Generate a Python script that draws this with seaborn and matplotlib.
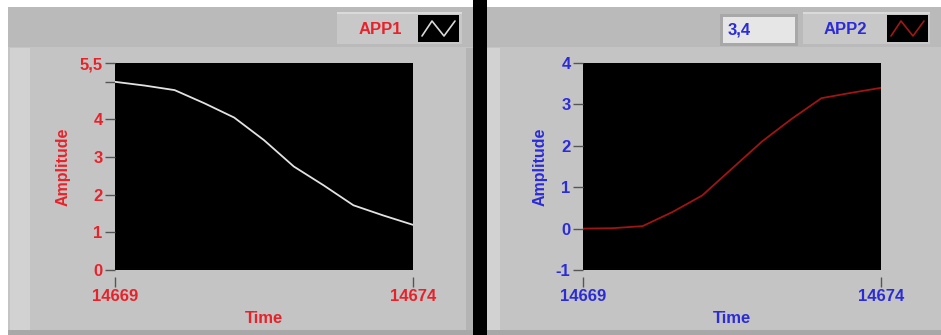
import numpy as np
import pandas as pd
import seaborn as sns
import matplotlib.pyplot as plt
from matplotlib.patches import Rectangle
from matplotlib.lines import Line2D

# values
time = [14669, 14669.5, 14670, 14670.5, 14671, 14671.5, 14672, 14672.5, 14673, 14673.5, 14674]
app1 = [5.00, 4.90, 4.78, 4.43, 4.05, 3.45, 2.75, 2.25, 1.72, 1.45, 1.20]
app2 = [0.00, 0.01, 0.06, 0.40, 0.80, 1.45, 2.10, 2.65, 3.15, 3.28, 3.40]
x_ticks = [14669, 14674]
y1_ticks = [0, 1, 2, 3, 4, 5, 5.5]
y1_labels = ["0", "1", "2", "3", "4", "", "5,5"]
y2_ticks = [-1, 0, 1, 2, 3, 4]
y2_labels = ["-1", "0", "1", "2", "3", "4"]

W, H = 941, 335
RED = "#e8222a"
BLUE = "#2b2bd8"

sns.set_style("white")
plt.rcParams["font.family"] = ["Liberation Sans", "DejaVu Sans"]

fig = plt.figure(figsize=(W / 100, H / 100), dpi=100)
fig.patch.set_facecolor("white")


def box(x0, y0, x1, y1, color, z=-10):
    # rectangle in pixel coords (y from top)
    fig.patches.append(Rectangle((x0 / W, 1 - y1 / H), (x1 - x0) / W, (y1 - y0) / H,
                                 transform=fig.transFigure, facecolor=color,
                                 edgecolor="none", zorder=z))


def ftext(x, y, s, color, **kw):
    fig.text(x / W, 1 - y / H, s, color=color, ha="center", va="center",
             fontweight="bold", **kw)


# panel backgrounds
box(8, 7, 473, 335, "#c4c4c4")
box(8, 7, 473, 47, "#bababa")
box(10, 48, 30, 330, "#d2d2d2")
box(8, 330, 473, 335, "#a8a8a8")
box(466, 48, 473, 330, "#b4b4b4")
box(473, 0, 487, 335, "#000000")
box(487, 7, 941, 335, "#c4c4c4")
box(487, 7, 941, 47, "#bababa")
box(487, 48, 500, 330, "#d2d2d2")
box(487, 330, 941, 335, "#a8a8a8")

# legend / indicator boxes
box(337, 12, 462, 44, "#c8c8c8", -9)
box(337, 12, 462, 14, "#dadada", -8.5)
box(418, 15, 459, 42, "#000000", -8)
ftext(380, 29, "APP1", RED, fontsize=12)
box(803, 12, 930, 44, "#c8c8c8", -9)
box(803, 12, 930, 14, "#dadada", -8.5)
box(887, 15, 928, 42, "#000000", -8)
ftext(845, 29, "APP2", BLUE, fontsize=12)
box(720, 14, 798, 46, "#a8a8a8", -9)
box(723, 17, 795, 43, "#e6e6e6", -8)
fig.text(728 / W, 1 - 30 / H, f"{app2[-1]:.1f}".replace(".", ","), color=BLUE,
         ha="left", va="center", fontweight="bold", fontsize=12)

for x0, col in [(418, "#d8d8d8"), (887, "#a01818")]:
    xs = np.array([x0 + 4, x0 + 14, x0 + 26, x0 + 37]) / W
    ys = 1 - np.array([36, 21, 36, 21]) / H
    fig.lines.append(Line2D(xs, ys, transform=fig.transFigure, color=col, lw=1.2))


def graph(x0, vals, color, txt, yticks, ylabels, ylim):
    ax = fig.add_axes([x0 / W, 1 - 270 / H, 298 / W, 207 / H])
    df = pd.DataFrame({"Time": time, "Amplitude": vals})
    sns.lineplot(data=df, x="Time", y="Amplitude", color=color, lw=1.3, ax=ax)
    ax.set_facecolor("black")
    ax.set_xlim(time[0], time[-1])
    ax.set_ylim(*ylim)
    ax.spines["bottom"].set_position(("outward", 5))
    for s in ax.spines.values():
        s.set_visible(False)
    ax.set_xticks(x_ticks)
    ax.set_xticklabels([str(t) for t in x_ticks], fontweight="bold")
    ax.set_yticks(yticks)
    ax.set_yticklabels(ylabels, fontweight="bold")
    ax.tick_params(axis="y", direction="out", length=7, width=1, color="#555555",
                   labelcolor=txt, labelsize=12, pad=2, left=True)
    ax.tick_params(axis="x", direction="out", length=7, width=1, color="#555555",
                   labelcolor=txt, labelsize=12, pad=2, bottom=True)
    ax.set_xlabel("Time", color=txt, fontweight="bold", fontsize=12, labelpad=5)
    ax.set_ylabel("Amplitude", color=txt, fontweight="bold", fontsize=11.5, labelpad=6)
    return ax


graph(115, app1, "#e2e2e2", RED, y1_ticks, y1_labels, (0, 5.5))
graph(583, app2, "#a01414", BLUE, y2_ticks, y2_labels, (-1, 4))

fig.savefig("out.png", dpi=100, facecolor=fig.get_facecolor())
